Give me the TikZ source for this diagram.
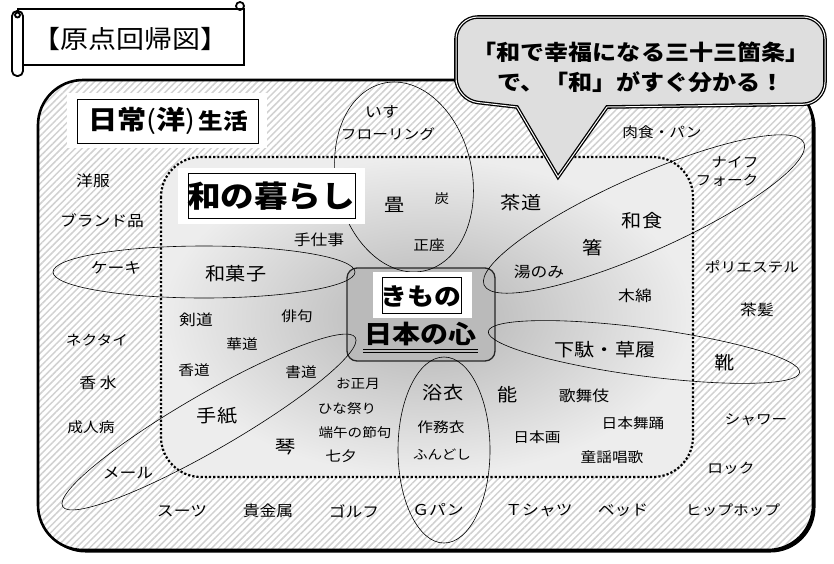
\documentclass[tikz,border=0pt]{standalone}
\usepackage{fontspec}
\setmainfont{Noto Sans CJK JP}[FakeStretch=1.12]
\usetikzlibrary{patterns.meta}

\tikzset{
  lbls/.style={font=\fontsize{13}{13}\selectfont},
  lblm/.style={font=\fontsize{14}{14}\selectfont},
  lbl/.style={font=\fontsize{15}{15}\selectfont},
  lbll/.style={font=\fontsize{18}{18}\selectfont},
  ring/.style={draw=black, line width=0.6pt},
  frame/.style={draw=black, line width=0.9pt},
  scroll/.style={draw=black, line width=1.8pt},
  outerzone/.style={rounded corners=45pt, line width=2.6pt, preaction={fill=white},
    pattern={Lines[angle=45,distance=4.8pt,line width=1.5pt]}, pattern color=black!18},
  innerzone/.style={rounded corners=40pt, line width=2.2pt, dotted,
    inner color=black!30, outer color=black!7},
  corebox/.style={fill=black!27, draw=black!85, line width=1.3pt, rounded corners=10pt},
  bubble/.style={fill=black!13, draw=black, line width=1.3pt, double=white, double distance=1pt}
}

\begin{document}
\begin{tikzpicture}[x=1pt,y=-1pt]
\useasboundingbox (0,0) rectangle (834,563);

% title scroll
\draw [scroll, fill=white] (18,9) rectangle (244,65);
\draw [scroll] (240,6) circle (4pt);
\draw [scroll, fill=white, rounded corners=5pt] (12,11) rectangle (23,76);
\draw [scroll] (17.5,15) circle (2.5pt);
\node [font=\fontsize{25}{25}\selectfont] (title) at (130,39) {【原点回帰図】};

% outer and inner zones
\fill [black, rounded corners=45pt] (40.5,82.5) rectangle (815.5,552.5);
\draw [outerzone] (38,80) rectangle (813,550);
\draw [innerzone] (161,157) rectangle (693,477);
\draw [corebox] (347,268) rectangle (495,361);

% rings
\coordinate (tatamiC) at (404,177);
\coordinate (wagashiC) at (204,272);
\coordinate (tegamiC) at (209,422);
\coordinate (yukataC) at (444,450);
\coordinate (getaC) at (644,352);
\coordinate (washokuC) at (644,214);
\draw [ring, rotate around={12:(tatamiC)}] (tatamiC) ellipse [x radius=68pt, y radius=96pt];
\draw [ring] (wagashiC) ellipse [x radius=151pt, y radius=26pt];
\draw [ring, rotate around={30:(tegamiC)}] (tegamiC) ellipse [x radius=169pt, y radius=28pt];
\draw [ring] (yukataC) ellipse [x radius=46pt, y radius=93pt];
\draw [ring, rotate around={-7.5:(getaC)}] (getaC) ellipse [x radius=157pt, y radius=24pt];
\draw [ring, rotate around={24:(washokuC)}] (washokuC) ellipse [x radius=175pt, y radius=38pt];

% heading boxes
\fill [white] (67,93) rectangle (267,148);
\draw [frame] (77,99) rectangle (258,143);
\node (nichijo) at (168,121) {{\fontsize{26}{26}\selectfont\bfseries 日常}{\fontsize{26}{26}\selectfont (}{\fontsize{26}{26}\selectfont\bfseries 洋}{\fontsize{26}{26}\selectfont )}\hspace{3pt}{\fontsize{22}{22}\selectfont\bfseries 生活}};
\fill [white] (178,168) rectangle (365,224);
\draw [frame] (188,173) rectangle (355,218);
\node [font=\fontsize{30}{30}\selectfont\bfseries] (kurashi) at (271,196) {和の暮らし};
\fill [white] (373,272) rectangle (472,318);
\draw [frame] (382,277) rectangle (461,313);
\node [font=\fontsize{24}{24}\selectfont\bfseries] (kimono) at (421,296) {きもの};
\node [font=\fontsize{25}{25}\selectfont\bfseries] (kokoro) at (420,334) {日本の心};
\draw [line width=0.9pt] (363,349) -- (478,349);
\draw [line width=0.9pt] (363,352.5) -- (478,352.5);

% outer ring (daily western life)
\node [lbl] (yofuku) at (93,181) {洋服};
\node [lbl] (brand) at (102,221) {ブランド品};
\node [lbl] (cake) at (116,268) {ケーキ};
\node [lblm] (necktie) at (97,340) {ネクタイ};
\node [lbl] (kosui) at (98,383) {香 水};
\node [lblm] (seijin) at (91,427) {成人病};
\node [lbl] (mail) at (128,473) {メール};
\node [lbl] (suit) at (182,511) {スーツ};
\node [lbl] (kikinzoku) at (268,511) {貴金属};
\node [lbl] (golf) at (354,511) {ゴルフ};
\node [lbl] (gpan) at (438,510) {Ｇパン};
\node [lbl] (tshirt) at (539,510) {Ｔシャツ};
\node [lbl] (bed) at (623,510) {ベッド};
\node [lblm] (hiphop) at (733,510) {ヒップホップ};
\node [lblm] (rock) at (731,468) {ロック};
\node [lblm] (shower) at (756,420) {シャワー};
\node [lbll] (kutsu) at (725,363) {靴};
\node [lbl] (chapatsu) at (757,310) {茶髪};
\node [lblm] (polyester) at (752,267) {ポリエステル};
\node [lblm] (knife) at (735,162) {ナイフ};
\node [lblm] (fork) at (727,180) {フォーク};
\node [lblm] (nikushoku) at (662,132) {肉食・パン};
\node [lbl] (isu) at (382,112) {いす};
\node [lblm] (flooring) at (388,134) {フローリング};

% inner zone (japanese life)
\node [lbll] (tatami) at (395,205) {畳};
\node [lbls] (sumi) at (442,199) {炭};
\node [lbll] (sado) at (521,203) {茶道};
\node [lblm] (seiza) at (429,245) {正座};
\node [lbll] (washoku) at (642,221) {和食};
\node [lbll] (hashi) at (593,248) {箸};
\node [lbl] (yunomi) at (539,272) {湯のみ};
\node [lbl] (momen) at (635,296) {木綿};
\node [lbl] (teshigoto) at (319,240) {手仕事};
\node [lbll] (wagashi) at (236,274) {和菓子};
\node [lbl] (kendo) at (196,320) {剣道};
\node [lblm] (haiku) at (297,316) {俳句};
\node [lblm] (kado) at (242,344) {華道};
\node [lblm] (kodo) at (194,370) {香道};
\node [lblm] (shodo) at (301,372) {書道};
\node [lbls] (oshogatsu) at (358,384) {お正月};
\node [lbls] (hinamatsuri) at (347,409) {ひな祭り};
\node [lbls] (tango) at (355,433) {端午の節句};
\node [lbll] (tegami) at (217,416) {手紙};
\node [lbll] (koto) at (286,447) {琴};
\node [lblm] (tanabata) at (341,456) {七夕};
\node [lbll] (geta) at (605,350) {下駄・草履};
\node [lbll] (yukata) at (443,393) {浴衣};
\node [lbll] (noh) at (508,395) {能};
\node [lbl] (kabuki) at (584,396) {歌舞伎};
\node [lblm] (nihonbuyo) at (633,423) {日本舞踊};
\node [lblm] (samue) at (441,427) {作務衣};
\node [lblm] (nihonga) at (537,437) {日本画};
\node [lbls] (fundoshi) at (442,455) {ふんどし};
\node [lblm] (doyo) at (612,457) {童謡唱歌};

% speech bubble
\draw [bubble] (456,60) [rounded corners=22pt] -- (456,17) -- (825,17) -- (825,104) [sharp corners] -- (607,107) -- (558,177) -- (517,107) [rounded corners=22pt] -- (456,100) -- cycle;
\node [font=\fontsize{21.5}{30}\selectfont\bfseries, align=center] (slogan) at (641,67) {「和で幸福になる三十三箇条」\\で、「和」がすぐ分かる！};
\end{tikzpicture}
\end{document}
